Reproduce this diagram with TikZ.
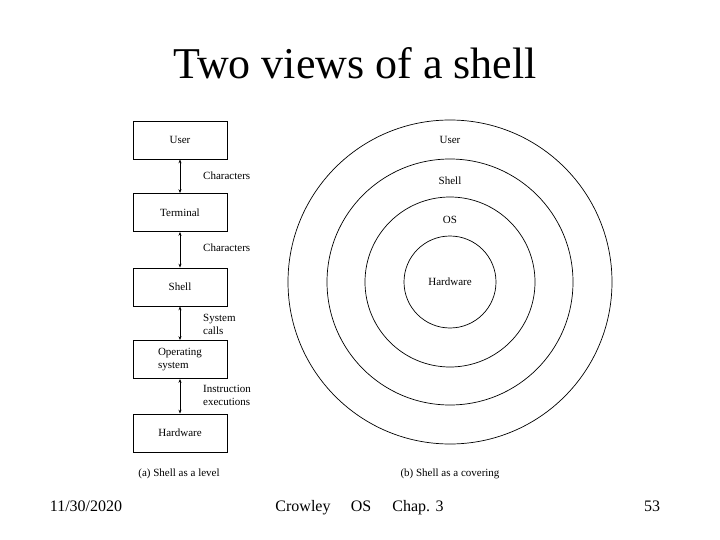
\documentclass[tikz,border=0pt]{standalone}
\usepackage{fontspec}
\setmainfont{Liberation Serif}
\usetikzlibrary{arrows.meta}
\begin{document}
\begin{tikzpicture}[x=1pt,y=-1pt,
  layerbox/.style={draw,line width=0.7pt,minimum width=94pt,minimum height=38pt,inner sep=0pt,font=\fontsize{11}{13}\selectfont,align=left},
  ring/.style={draw,circle,line width=0.7pt,inner sep=0pt},
  lbl/.style={font=\fontsize{11}{13}\selectfont,align=left,inner sep=0pt},
  link/.style={line width=0.8pt,{Stealth[length=4pt,width=3pt]}-{Stealth[length=4pt,width=3pt]}},
  foot/.style={font=\fontsize{16}{18}\selectfont,inner sep=0pt,anchor=base}]
\useasboundingbox (0,0) rectangle (720,540);
\node[font=\fontsize{44}{48}\selectfont,anchor=base,inner sep=0pt] (title) at (355,79) {Two views of a shell};
% left: layers
\node[layerbox] (user) at (180,140) {User};
\node[layerbox] (term) at (180,212.5) {Terminal};
\node[layerbox] (shell) at (180,287) {Shell};
\node[layerbox] (os) at (180,359.5) {Operating\\system};
\node[layerbox] (hw) at (180,433) {Hardware};
\draw[link] (user.south) -- (term.north);
\draw[link] (term.south) -- (shell.north);
\draw[link] (shell.south) -- (os.north);
\draw[link] (os.south) -- (hw.north);
\node[lbl,anchor=west] (c1) at (203,176) {Characters};
\node[lbl,anchor=west] (c2) at (203,248) {Characters};
\node[lbl,anchor=west] (c3) at (203,324) {System\\calls};
\node[lbl,anchor=west] (c4) at (203,395) {Instruction\\executions};
\node[lbl] (capa) at (179,474) {(a) Shell as a level};
% right: rings
\node[ring,minimum size=324pt] (r1) at (450,282) {};
\node[ring,minimum size=246pt] (r2) at (450,282) {};
\node[ring,minimum size=170pt] (r3) at (450,282) {};
\node[ring,minimum size=92pt] (r4) at (450,282) {};
\node[lbl] (tu) at (450,140) {User};
\node[lbl] (ts) at (450,181) {Shell};
\node[lbl] (to) at (450,220) {OS};
\node[lbl] (th) at (450,282) {Hardware};
\node[lbl] (capb) at (450,474) {(b) Shell as a covering};
% footer
\node[foot] (date) at (86,511) {11/30/2020};
\node[foot] (auth) at (303,511) {Crowley};
\node[foot] (osf) at (361,511) {OS};
\node[foot] (chap) at (418,511) {Chap. 3};
\node[foot] (num) at (652,511) {53};
\end{tikzpicture}
\end{document}
